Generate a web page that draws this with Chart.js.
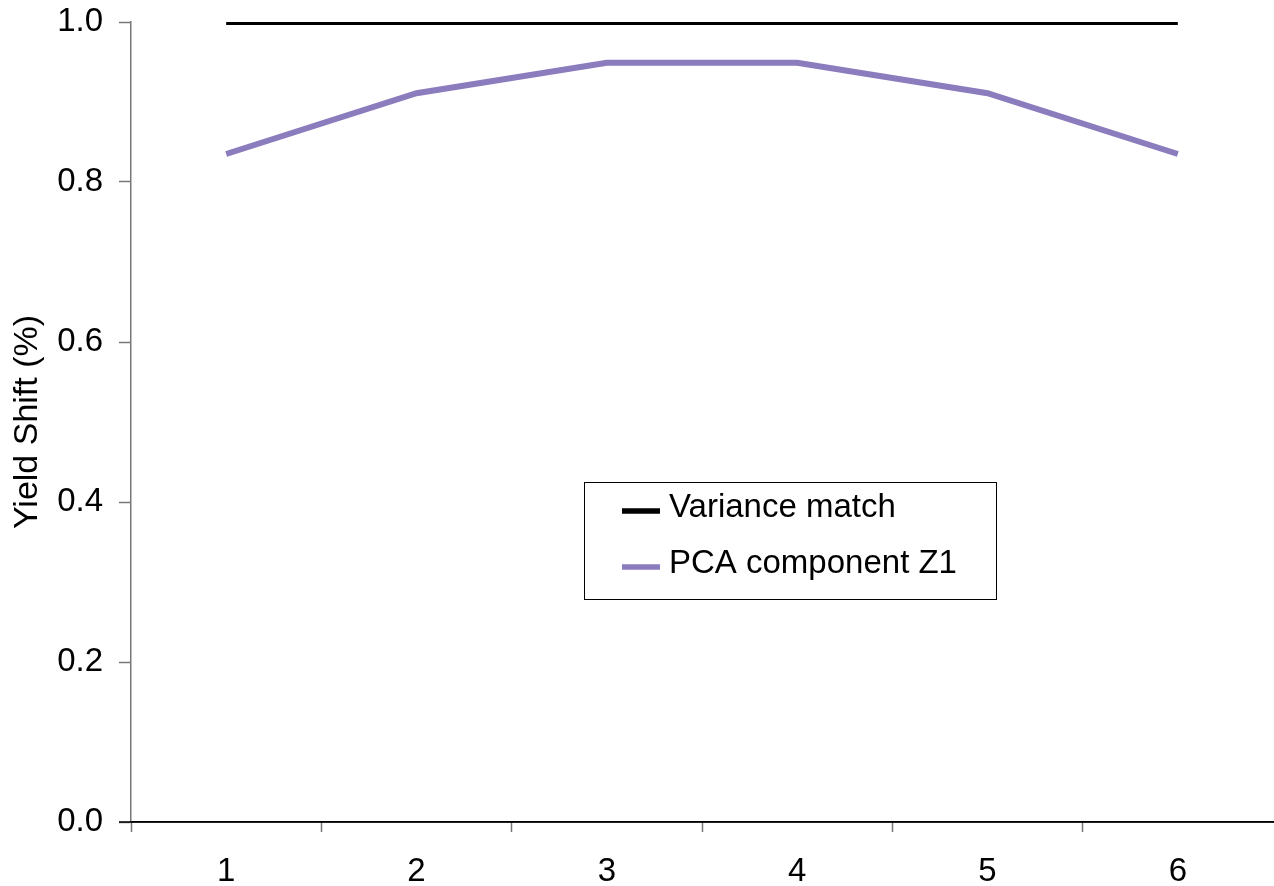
<!DOCTYPE html>
<html>
<head>
<meta charset="utf-8">
<script src="https://cdn.jsdelivr.net/npm/chart.js@4"></script>
<style>
html,body{margin:0;padding:0;background:#fff;}
#wrap{width:1274px;height:886px;position:relative;}
</style>
</head>
<body>
<div id="wrap"><canvas id="c" width="1274" height="886"></canvas></div>
<script>
const categories = ['1', '2', '3', '4', '5', '6'];
const varianceMatch = [1.0, 1.0, 1.0, 1.0, 1.0, 1.0];
const pcaZ1 = [0.835, 0.911, 0.949, 0.949, 0.911, 0.835];
const seriesNames = ['Variance match', 'PCA component Z1'];
const yTicks = [0.0, 0.2, 0.4, 0.6, 0.8, 1.0];

const FONT = "'Liberation Sans', Arial, sans-serif";

const boxLegend = {
  id: 'boxLegend',
  afterDraw(chart) {
    const ctx = chart.ctx;
    const x0 = 584.5, y0 = 482.5, w = 412, h = 117;
    ctx.save();
    ctx.fillStyle = '#fff';
    ctx.fillRect(x0, y0, w, h);
    ctx.strokeStyle = '#000';
    ctx.lineWidth = 1;
    ctx.strokeRect(x0, y0, w, h);
    ctx.font = '33px ' + FONT;
    ctx.textBaseline = 'alphabetic';
    chart.data.datasets.forEach((ds, i) => {
      const yy = 511 + i * 56;
      ctx.strokeStyle = ds.borderColor;
      ctx.lineWidth = 5.5;
      ctx.beginPath();
      ctx.moveTo(622, yy);
      ctx.lineTo(660, yy);
      ctx.stroke();
      ctx.fillStyle = '#000';
      ctx.fillText(ds.label, 669, yy + 6);
    });
    ctx.restore();
  }
};

const xAxisExtend = {
  id: 'xAxisExtend',
  afterDraw(chart) {
    const ctx = chart.ctx;
    const a = chart.chartArea;
    ctx.save();
    ctx.strokeStyle = '#000';
    ctx.lineWidth = 1.5;
    ctx.beginPath();
    ctx.moveTo(119, a.bottom);
    ctx.lineTo(a.right + 1, a.bottom);
    ctx.stroke();
    ctx.restore();
  }
};

new Chart(document.getElementById('c'), {
  type: 'line',
  data: {
    labels: categories,
    datasets: [
      { label: seriesNames[0], data: varianceMatch, borderColor: '#000000', borderWidth: 6, pointRadius: 0, tension: 0, fill: false },
      { label: seriesNames[1], data: pcaZ1, borderColor: '#8b7cbe', borderWidth: 6, pointRadius: 0, tension: 0, fill: false }
    ]
  },
  options: {
    responsive: false,
    animation: false,
    layout: { padding: { top: 22, right: 1, left: 0, bottom: 0 } },
    plugins: { legend: { display: false }, tooltip: { enabled: false } },
    scales: {
      x: {
        offset: true,
        grid: { offset: true, drawOnChartArea: false, tickLength: 10, tickWidth: 1.5,
                tickColor: c => (c.type === 'tick' ? '#777' : 'rgba(0,0,0,0)') },
        border: { display: true, color: '#000', width: 1.5 },
        ticks: { color: '#000', font: { family: FONT, size: 33 }, padding: 20, maxRotation: 0 },
        afterFit(s) { s.height = 64; s.paddingLeft = 0; s.paddingRight = 0; }
      },
      y: {
        min: 0, max: 1.0,
        afterBuildTicks(s) { s.ticks = yTicks.map(v => ({ value: v })); },
        grid: { drawOnChartArea: false, tickLength: 12, color: '#777', tickWidth: 1.5 },
        border: { display: true, color: '#777', width: 1.5 },
        ticks: { color: '#000', font: { family: FONT, size: 33 }, padding: 16, callback: v => v.toFixed(1) },
        title: { display: true, text: 'Yield Shift (%)', color: '#000', font: { family: FONT, size: 34 }, padding: { top: 7, bottom: 0 } },
        afterFit(s) { s.width = 131; s.paddingTop = 0; s.paddingBottom = 0; }
      }
    }
  },
  plugins: [boxLegend, xAxisExtend]
});
</script>
</body>
</html>
